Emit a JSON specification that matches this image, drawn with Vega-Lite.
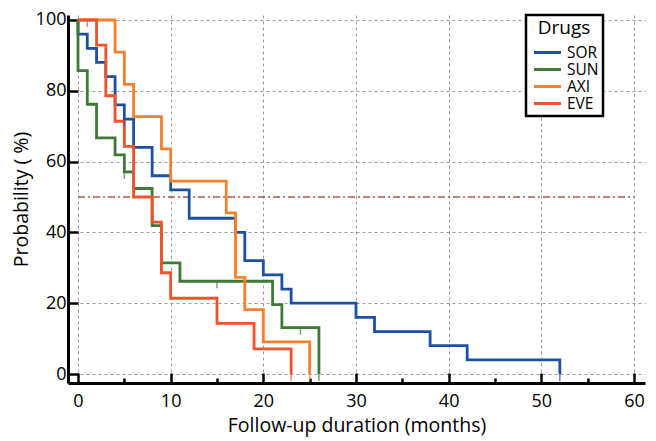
{
  "$schema": "https://vega.github.io/schema/vega-lite/v6.json",
  "width": 577,
  "height": 368,
  "autosize": {"type": "none"},
  "padding": {"left": 68, "top": 15, "right": 11, "bottom": 58},
  "background": "white",
  "config": {
    "view": {"stroke": null},
    "font": "Open Sans",
    "axis": {
      "labelFont": "Open Sans",
      "titleFont": "Open Sans",
      "labelFontSize": 18,
      "titleFontSize": 19.5,
      "titleFontWeight": "normal",
      "labelColor": "black",
      "titleColor": "black",
      "domainColor": "black",
      "domainWidth": 3,
      "tickColor": "black",
      "tickWidth": 2.5,
      "gridColor": "#9a9a9a",
      "gridDash": [3, 3],
      "gridWidth": 1,
      "labelFlush": false
    }
  },
  "datasets": {
    "curves": [
      {"drug": "SOR", "i": 0, "t": 0, "s": 100},
      {"drug": "SOR", "i": 1, "t": 0, "s": 96},
      {"drug": "SOR", "i": 2, "t": 1, "s": 92},
      {"drug": "SOR", "i": 3, "t": 2, "s": 88},
      {"drug": "SOR", "i": 4, "t": 3, "s": 84},
      {"drug": "SOR", "i": 5, "t": 4, "s": 76},
      {"drug": "SOR", "i": 6, "t": 5, "s": 72},
      {"drug": "SOR", "i": 7, "t": 6, "s": 64},
      {"drug": "SOR", "i": 8, "t": 8, "s": 56},
      {"drug": "SOR", "i": 9, "t": 10, "s": 52},
      {"drug": "SOR", "i": 10, "t": 12, "s": 44},
      {"drug": "SOR", "i": 11, "t": 17, "s": 40},
      {"drug": "SOR", "i": 12, "t": 18, "s": 32},
      {"drug": "SOR", "i": 13, "t": 20, "s": 28},
      {"drug": "SOR", "i": 14, "t": 22, "s": 24},
      {"drug": "SOR", "i": 15, "t": 23, "s": 20},
      {"drug": "SOR", "i": 16, "t": 30, "s": 16},
      {"drug": "SOR", "i": 17, "t": 32, "s": 12},
      {"drug": "SOR", "i": 18, "t": 38, "s": 8},
      {"drug": "SOR", "i": 19, "t": 42, "s": 4},
      {"drug": "SOR", "i": 20, "t": 52, "s": 0},
      {"drug": "SUN", "i": 0, "t": 0, "s": 100},
      {"drug": "SUN", "i": 1, "t": 0, "s": 85.7},
      {"drug": "SUN", "i": 2, "t": 1, "s": 76.2},
      {"drug": "SUN", "i": 3, "t": 2, "s": 66.7},
      {"drug": "SUN", "i": 4, "t": 4, "s": 61.9},
      {"drug": "SUN", "i": 5, "t": 5, "s": 57.1},
      {"drug": "SUN", "i": 6, "t": 6, "s": 52.4},
      {"drug": "SUN", "i": 7, "t": 8, "s": 41.9},
      {"drug": "SUN", "i": 8, "t": 9, "s": 31.4},
      {"drug": "SUN", "i": 9, "t": 11, "s": 26.2},
      {"drug": "SUN", "i": 10, "t": 21, "s": 19.6},
      {"drug": "SUN", "i": 11, "t": 22, "s": 13.1},
      {"drug": "SUN", "i": 12, "t": 26, "s": 0},
      {"drug": "AXI", "i": 0, "t": 0, "s": 100},
      {"drug": "AXI", "i": 1, "t": 4, "s": 90.9},
      {"drug": "AXI", "i": 2, "t": 5, "s": 81.8},
      {"drug": "AXI", "i": 3, "t": 6, "s": 72.7},
      {"drug": "AXI", "i": 4, "t": 9, "s": 63.6},
      {"drug": "AXI", "i": 5, "t": 10, "s": 54.5},
      {"drug": "AXI", "i": 6, "t": 16, "s": 45.5},
      {"drug": "AXI", "i": 7, "t": 17, "s": 27.3},
      {"drug": "AXI", "i": 8, "t": 18, "s": 18.2},
      {"drug": "AXI", "i": 9, "t": 20, "s": 9.1},
      {"drug": "AXI", "i": 10, "t": 25, "s": 0},
      {"drug": "EVE", "i": 0, "t": 0, "s": 100},
      {"drug": "EVE", "i": 1, "t": 2, "s": 92.9},
      {"drug": "EVE", "i": 2, "t": 3, "s": 78.6},
      {"drug": "EVE", "i": 3, "t": 4, "s": 71.4},
      {"drug": "EVE", "i": 4, "t": 5, "s": 64.3},
      {"drug": "EVE", "i": 5, "t": 6, "s": 50},
      {"drug": "EVE", "i": 6, "t": 8, "s": 42.9},
      {"drug": "EVE", "i": 7, "t": 9, "s": 28.6},
      {"drug": "EVE", "i": 8, "t": 10, "s": 21.4},
      {"drug": "EVE", "i": 9, "t": 15, "s": 14.3},
      {"drug": "EVE", "i": 10, "t": 19, "s": 7.1},
      {"drug": "EVE", "i": 11, "t": 23, "s": 0}
    ],
    "censored": [
      {"drug": "SOR", "t": 5, "s": 72},
      {"drug": "SOR", "t": 52, "s": 0},
      {"drug": "SUN", "t": 5, "s": 57.1},
      {"drug": "SUN", "t": 15, "s": 26.2},
      {"drug": "SUN", "t": 24, "s": 13.1},
      {"drug": "SUN", "t": 26, "s": 0},
      {"drug": "AXI", "t": 25, "s": 0},
      {"drug": "EVE", "t": 1, "s": 100},
      {"drug": "EVE", "t": 23, "s": 0}
    ],
    "median": [
      {"t0": 0, "t1": 60, "s": 50}
    ]
  },
  "layer": [
    {
      "data": {"name": "median"},
      "mark": {"type": "rule", "color": "#a8574c", "strokeWidth": 1.5, "strokeDash": [7, 3, 2, 3]},
      "encoding": {
        "x": {"field": "t0", "type": "quantitative", "scale": {"domain": [-1.08, 61.19], "nice": false, "zero": false}},
        "x2": {"field": "t1"},
        "y": {"field": "s", "type": "quantitative", "scale": {"domain": [-2.54, 101.41], "nice": false, "zero": false}}
      }
    },
    {
      "data": {"name": "curves"},
      "mark": {"type": "line", "interpolate": "step-after", "strokeWidth": 2.8},
      "encoding": {
        "x": {
          "field": "t", "type": "quantitative",
          "scale": {"domain": [-1.08, 61.19], "nice": false, "zero": false},
          "axis": {
            "title": "Follow-up duration (months)",
            "values": [0, 5, 10, 15, 20, 25, 30, 35, 40, 45, 50, 55, 60],
            "labelExpr": "datum.value % 10 === 0 ? datum.label : ''",
            "tickSize": {"condition": {"test": "datum.value % 10 === 0", "value": -10}, "value": -5},
            "gridOpacity": {"condition": {"test": "datum.value % 10 === 0", "value": 1}, "value": 0},
            "grid": true,
            "labelPadding": 19,
            "titlePadding": 6
          }
        },
        "y": {
          "field": "s", "type": "quantitative",
          "scale": {"domain": [-2.54, 101.41], "nice": false, "zero": false},
          "axis": {
            "title": "Probability ( %)",
            "values": [0, 10, 20, 30, 40, 50, 60, 70, 80, 90, 100],
            "labelExpr": "datum.value % 20 === 0 ? datum.label : ''",
            "tickSize": {"condition": {"test": "datum.value % 20 === 0", "value": -10}, "value": -6},
            "gridOpacity": {"condition": {"test": "datum.value % 20 === 0", "value": 1}, "value": 0},
            "grid": true,
            "labelPadding": 12,
            "titlePadding": 4
          }
        },
        "color": {
          "field": "drug", "type": "nominal",
          "scale": {"domain": ["SOR", "SUN", "AXI", "EVE"], "range": ["#1c50a3", "#3e7a35", "#f6802d", "#f0522b"]},
          "legend": {
            "title": "Drugs",
            "orient": "none",
            "legendX": 458,
            "legendY": 0,
            "titleAnchor": "middle",
            "titleFont": "Open Sans",
            "titleFontSize": 19,
            "titleFontWeight": "normal",
            "titleColor": "black",
            "titlePadding": 6,
            "labelFont": "Open Sans",
            "labelFontSize": 15.5,
            "labelColor": "black",
            "labelExpr": "datum.label + '            '",
            "symbolType": "M-2,0H2",
            "symbolSize": 182,
            "symbolStrokeWidth": 3,
            "symbolOffset": 9,
            "labelOffset": 11,
            "rowPadding": 0,
            "padding": 4,
            "fillColor": "white",
            "strokeColor": "black",
            "encode": {"legend": {"update": {"strokeWidth": {"value": 2.5}}}}
          }
        },
        "order": {"field": "i", "type": "quantitative"}
      }
    },
    {
      "data": {"name": "censored"},
      "mark": {"type": "tick", "orient": "vertical", "size": 7, "thickness": 1.5, "yOffset": 3.5},
      "encoding": {
        "x": {"field": "t", "type": "quantitative"},
        "y": {"field": "s", "type": "quantitative"},
        "color": {"field": "drug", "type": "nominal"}
      }
    }
  ]
}
